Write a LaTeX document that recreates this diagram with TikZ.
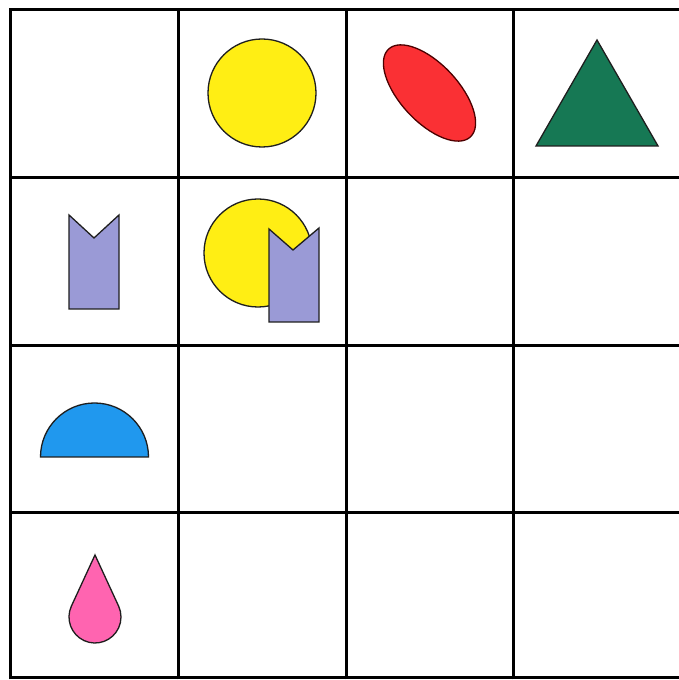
\documentclass[tikz,border=0pt]{standalone}
\usetikzlibrary{calc}
\definecolor{cyel}{RGB}{255,238,20}
\definecolor{cred}{RGB}{250,48,52}
\definecolor{cgreen}{RGB}{22,120,84}
\definecolor{cviolet}{RGB}{154,154,214}
\definecolor{cblue}{RGB}{32,152,238}
\definecolor{cpink}{RGB}{255,100,176}
\definecolor{cline}{RGB}{30,30,30}
\begin{document}
\begin{tikzpicture}[x=1pt,y=1pt,
  gridline/.style={line width=3pt,draw=black},
  shapeline/.style={line width=1.3pt,draw=cline,line join=miter}]
\useasboundingbox[fill=white] (0,0) rectangle (679,680);
% grid
\foreach \gx in {10.5,178,346,513}
  \draw[gridline] (\gx,0.5) -- (\gx,671.5);
\foreach \gy in {670,502,334,167,2}
  \draw[gridline] (9,\gy) -- (680,\gy);
% row 1
\draw[shapeline,fill=cyel] (262,587) circle[radius=54];
\draw[shapeline,draw=black!70!red,fill=cred] (429.5,587) ellipse[x radius=60,y radius=29,rotate=-47];
\draw[shapeline,fill=cgreen] (597,640) -- (536,534) -- (658,534) -- cycle;
% row 2
\draw[shapeline,fill=cviolet] (69,465) -- (94,442) -- (119,465) -- (119,371) -- (69,371) -- cycle;
\draw[shapeline,fill=cyel] (258,427) circle[radius=54];
\draw[shapeline,fill=cviolet] (269,451) -- (293,430) -- (319,452) -- (319,358) -- (269,358) -- cycle;
% row 3
\draw[shapeline,fill=cblue] (40.5,223) arc[start angle=180,end angle=0,radius=54] -- cycle;
% row 4
\draw[shapeline,fill=cpink] (95,125) -- ($(95,63)+(155.2:26)$) arc[start angle=155.2,end angle=384.8,radius=26] -- cycle;
\end{tikzpicture}
\end{document}
